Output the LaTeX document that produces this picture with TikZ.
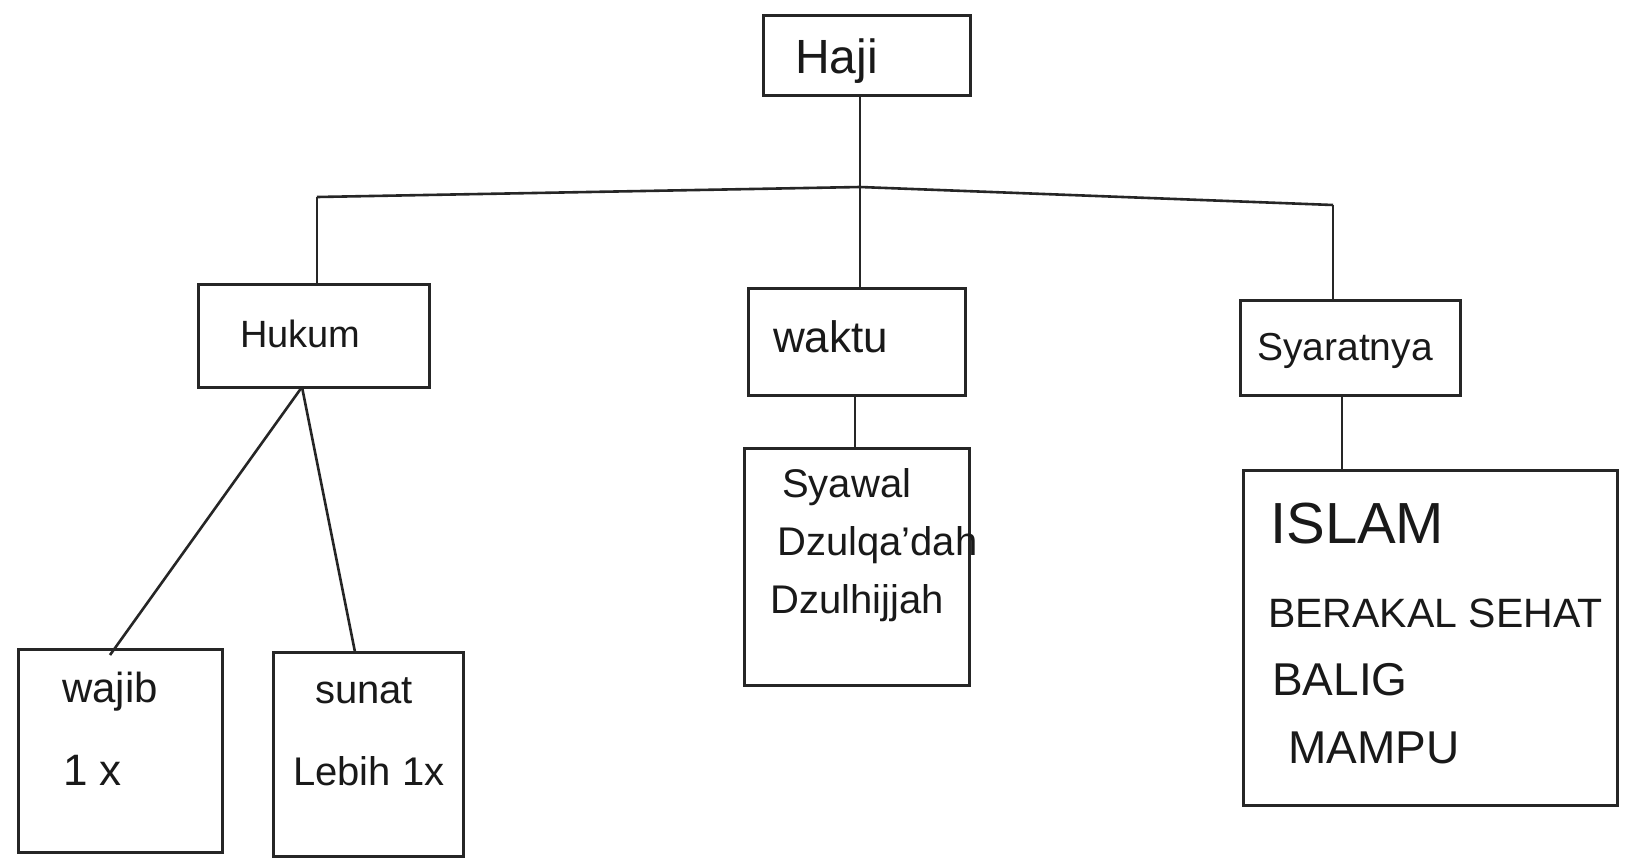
\documentclass[tikz,border=0pt]{standalone}
\usepackage{fontspec}
\setmainfont{Liberation Sans}
\begin{document}
\begin{tikzpicture}[x=1pt,y=-1pt,
  box/.style={draw=black!85,line width=3pt,rectangle,inner sep=0pt},
  conn/.style={draw=black!85,line width=2.6pt},
  lbl/.style={anchor=base west,inner sep=0pt,text=black!90}]
\useasboundingbox[fill=white] (0,0) rectangle (1625,863);
% boxes
\node[box,minimum width=207pt,minimum height=80pt] (haji) at (866.5,55) {};
\node[box,minimum width=231pt,minimum height=103pt] (hukum) at (313.5,335.5) {};
\node[box,minimum width=217pt,minimum height=107pt] (waktu) at (856.5,341.5) {};
\node[box,minimum width=220pt,minimum height=95pt] (syarat) at (1350,347.5) {};
\node[box,minimum width=204pt,minimum height=203pt] (wajib) at (120,750.5) {};
\node[box,minimum width=190pt,minimum height=204pt] (sunat) at (368,754) {};
\node[box,minimum width=225pt,minimum height=237pt] (bulan) at (856.5,566.5) {};
\node[box,minimum width=374pt,minimum height=335pt] (syaratlist) at (1430,637.5) {};
% labels
\node[lbl,font=\fontsize{48}{50}\selectfont] (thaji) at (795,73) {Haji};
\node[lbl,font=\fontsize{38}{40}\selectfont] (thukum) at (240,347) {Hukum};
\node[lbl,font=\fontsize{44}{48}\selectfont] (twaktu) at (773,352) {waktu};
\node[lbl,font=\fontsize{39}{42}\selectfont] (tsyarat) at (1257,360) {Syaratnya};
\node[lbl,font=\fontsize{42}{46}\selectfont] (twajib) at (62,702) {wajib};
\node[lbl,font=\fontsize{44}{48}\selectfont] (tsekali) at (63,785) {1 x};
\node[lbl,font=\fontsize{40}{44}\selectfont] (tsunat) at (315,703) {sunat};
\node[lbl,font=\fontsize{40}{44}\selectfont] (tlebih) at (293,785) {Lebih 1x};
\node[lbl,font=\fontsize{40}{44}\selectfont] (tsyawal) at (782,497) {Syawal};
\node[lbl,font=\fontsize{40}{44}\selectfont] (tqadah) at (777,555) {Dzulqa'dah};
\node[lbl,font=\fontsize{40}{44}\selectfont] (thijjah) at (770,613) {Dzulhijjah};
\node[lbl,font=\fontsize{58}{62}\selectfont] (tislam) at (1270,543) {ISLAM};
\node[lbl,font=\fontsize{41}{44}\selectfont] (tberakal) at (1268,627) {BERAKAL SEHAT};
\node[lbl,font=\fontsize{46}{50}\selectfont] (tbalig) at (1272,695) {BALIG};
\node[lbl,font=\fontsize{46}{50}\selectfont] (tmampu) at (1288,763) {MAMPU};
% connector points
\coordinate (hubL) at (317,197);
\coordinate (hubC) at (860,187);
\coordinate (hubR) at (1333,205);
\coordinate (hk) at (302,387);
% connectors
\draw[conn] (hubC |- haji.south) -- (hubC);
\draw[conn] (hubL) -- (hubC) -- (hubR);
\draw[conn] (hubL) -- (hubL |- hukum.north);
\draw[conn] (hubC) -- (hubC |- waktu.north);
\draw[conn] (hubR) -- (hubR |- syarat.north);
\draw[conn] (hk) -- (110,655);
\draw[conn] (hk) -- (355,652);
\draw[conn] (855,395) -- (855,448);
\draw[conn] (1342,395) -- (1342,470);
\end{tikzpicture}
\end{document}
